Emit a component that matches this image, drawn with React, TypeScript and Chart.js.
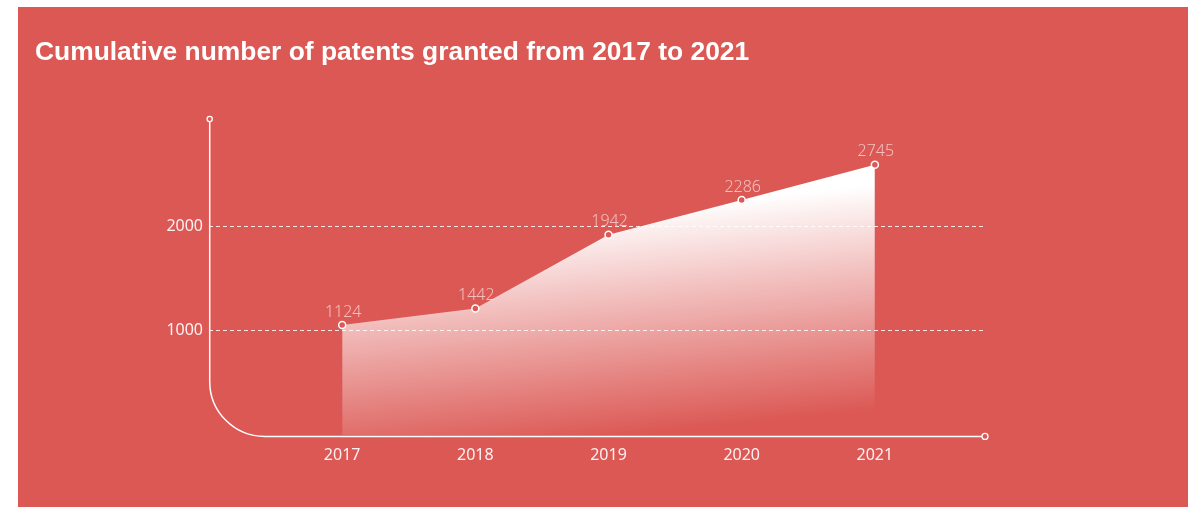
import React, { useEffect, useRef } from 'react';
import { Chart, registerables } from 'chart.js';

Chart.register(...registerables);

const TITLE = 'Cumulative number of patents granted from 2017 to 2021';
const years = [2017, 2018, 2019, 2020, 2021];
// heights as drawn in the reference
const plotted = [1055, 1214, 1923, 2256, 2594];
// values printed above the points
const valueLabels = ['1124', '1442', '1942', '2286', '2745'];
const yTicks = [1000, 2000];
const X_MIN = 2016;
const X_MAX = 2021.827;
const Y_MAX = 3033;

const BG = '#DC5854';
const TICK_FONT = '"Noto Sans", "Open Sans", sans-serif';

export default function App() {
  const ref = useRef<HTMLCanvasElement>(null);

  useEffect(() => {
    const canvas = ref.current;
    if (!canvas) return;

    const overlay = {
      id: 'overlay',
      afterDatasetsDraw(chart: any) {
        const { ctx, chartArea } = chart;
        const left = chartArea.left + 0.7;
        const top = chartArea.top;
        const axisY = chartArea.bottom + 1.4;
        const right = chartArea.right;
        const r = 55;
        ctx.save();
        ctx.strokeStyle = '#ffffff';
        ctx.lineWidth = 1.5;
        ctx.beginPath();
        ctx.moveTo(left, top + 3);
        ctx.lineTo(left, axisY - r);
        ctx.arcTo(left, axisY, left + r, axisY, r);
        ctx.lineTo(right - 3, axisY);
        ctx.stroke();
        // end circles
        ctx.fillStyle = BG;
        ctx.lineWidth = 1.3;
        ctx.beginPath();
        ctx.arc(left, top, 2.6, 0, Math.PI * 2);
        ctx.fill();
        ctx.stroke();
        ctx.beginPath();
        ctx.arc(right, axisY, 3, 0, Math.PI * 2);
        ctx.fill();
        ctx.stroke();
        // value labels
        const meta = chart.getDatasetMeta(0);
        ctx.fillStyle = 'rgba(255,255,255,0.62)';
        ctx.font = `300 16px ${TICK_FONT}`;
        ctx.textAlign = 'center';
        ctx.textBaseline = 'middle';
        meta.data.forEach((pt: any, i: number) => {
          ctx.fillText(valueLabels[i], pt.x + 1, pt.y - 13);
        });
        ctx.restore();
      },
      afterDraw(chart: any) {
        const { ctx } = chart;
        ctx.save();
        ctx.fillStyle = '#ffffff';
        ctx.font = 'bold 26.4px "Liberation Sans", Arial, sans-serif';
        ctx.textAlign = 'left';
        ctx.textBaseline = 'alphabetic';
        ctx.fillText(TITLE, 17, 52.5);
        ctx.restore();
      },
    };

    const chart = new Chart(canvas, {
      type: 'line',
      data: {
        datasets: [
          {
            data: years.map((y, i) => ({ x: y, y: plotted[i] })),
            fill: 'origin',
            backgroundColor: (c: any) => {
              const ch = c.chart;
              const area = ch.chartArea;
              if (!area) return 'rgba(255,255,255,0.5)';
              const x0 = ch.scales.x.getPixelForValue(years[years.length - 1]);
              const g = ch.ctx.createLinearGradient(x0, area.top + 66, x0 + 23, area.bottom - 26);
              g.addColorStop(0, 'rgba(255,255,255,1)');
              g.addColorStop(1, 'rgba(255,255,255,0)');
              return g;
            },
            borderWidth: 0,
            borderColor: 'rgba(255,255,255,0)',
            tension: 0,
            pointRadius: 3.5,
            pointBorderWidth: 1.5,
            pointBorderColor: '#ffffff',
            pointBackgroundColor: BG,
            pointHoverRadius: 3.5,
          },
        ],
      },
      options: {
        responsive: false,
        maintainAspectRatio: false,
        animation: false,
        events: [],
        layout: { padding: { top: 112, right: 203, left: 0, bottom: 0 } },
        plugins: {
          legend: { display: false },
          tooltip: { enabled: false },
          title: { display: false },
        },
        scales: {
          x: {
            type: 'linear',
            min: X_MIN,
            max: X_MAX,
            afterBuildTicks: (s: any) => {
              s.ticks = years.map((v) => ({ value: v }));
            },
            afterFit: (s: any) => {
              s.height = 72;
            },
            grid: { display: false },
            border: { display: false },
            ticks: {
              color: 'rgba(255,255,255,0.92)',
              font: { family: TICK_FONT, size: 16 },
              padding: 3,
              maxRotation: 0,
              callback: (v: any) => String(v),
            },
          },
          y: {
            type: 'linear',
            min: 0,
            max: Y_MAX,
            afterBuildTicks: (s: any) => {
              s.ticks = yTicks.map((v) => ({ value: v }));
            },
            afterFit: (s: any) => {
              s.width = 191;
            },
            grid: {
              color: 'rgba(255,255,255,0.85)',
              lineWidth: 1,
              drawTicks: false,
            },
            border: { display: false, dash: [4, 3] },
            ticks: {
              color: 'rgba(255,255,255,0.92)',
              font: { family: TICK_FONT, size: 16 },
              padding: 6,
              callback: (v: any) => String(v),
            },
          },
        },
      },
      plugins: [overlay],
    } as any);

    return () => chart.destroy();
  }, []);

  return (
    <div
      style={{
        position: 'absolute',
        left: 18,
        top: 7,
        width: 1170,
        height: 500,
        background: BG,
      }}
    >
      <canvas ref={ref} width={1170} height={500} style={{ display: 'block', width: 1170, height: 500 }} />
    </div>
  );
}
